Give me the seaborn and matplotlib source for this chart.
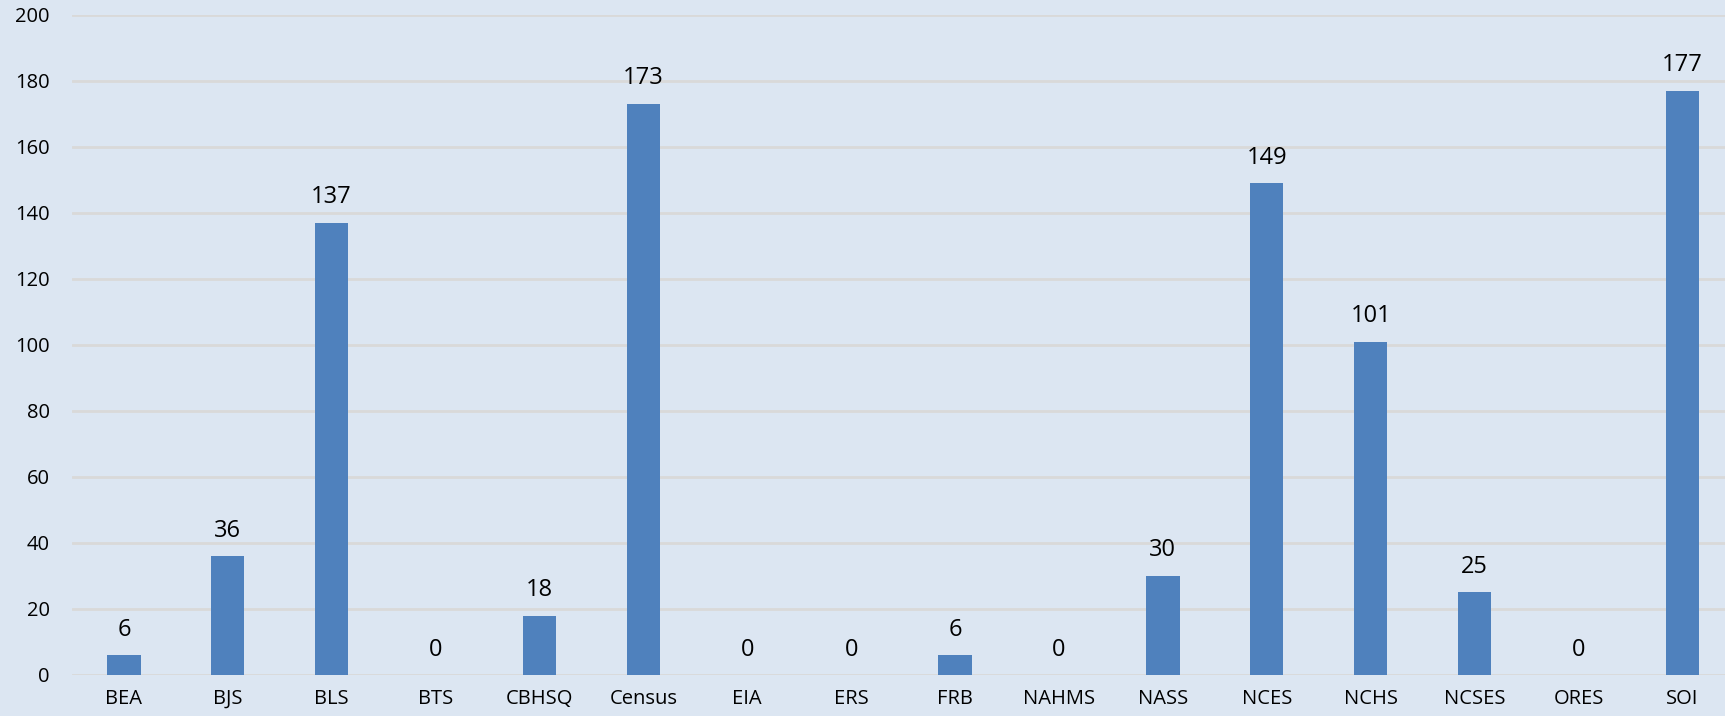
import matplotlib
matplotlib.use("Agg")
import matplotlib.pyplot as plt
import seaborn as sns
import pandas as pd

# Agencies and counts
agencies = ["BEA", "BJS", "BLS", "BTS", "CBHSQ", "Census", "EIA", "ERS", "FRB",
            "NAHMS", "NASS", "NCES", "NCHS", "NCSES", "ORES", "SOI"]
counts = [6, 36, 137, 0, 18, 173, 0, 0, 6, 0, 30, 149, 101, 25, 0, 177]
y_ticks = list(range(0, 201, 20))

df = pd.DataFrame({"agency": agencies, "count": counts})

sns.set_theme(style="white")
plt.rcParams['font.family'] = ['Open Sans', 'DejaVu Sans']

bg = "#DCE6F2"
fig = plt.figure(figsize=(17.25, 7.16), dpi=100, facecolor=bg)
ax = fig.add_axes([0.0417, 0.0573, 0.9583, 0.9222])
ax.set_facecolor(bg)

sns.barplot(data=df, x="agency", y="count", color="#4F81BD", width=0.32,
            saturation=1, linewidth=0, ax=ax, zorder=3)

# value labels above bars
for i, v in enumerate(counts):
    ax.annotate(str(v), (i, v), xytext=(0, 14), textcoords="offset points",
                ha="center", va="baseline", fontsize=17, color="black")

ax.set_ylim(0, 200)
ax.set_xlim(-0.5, 15.41)
ax.set_yticks(y_ticks)
ax.yaxis.grid(True, color="#D9D9D9", linewidth=2, zorder=0)
ax.set_axisbelow(True)
for s in ax.spines.values():
    s.set_visible(False)
ax.tick_params(axis="both", length=0, labelsize=14.5, colors="black")
ax.tick_params(axis="y", pad=16)
ax.tick_params(axis="x", pad=10)
ax.set_xlabel("")
ax.set_ylabel("")

fig.savefig("out.png", dpi=100, facecolor=bg)
